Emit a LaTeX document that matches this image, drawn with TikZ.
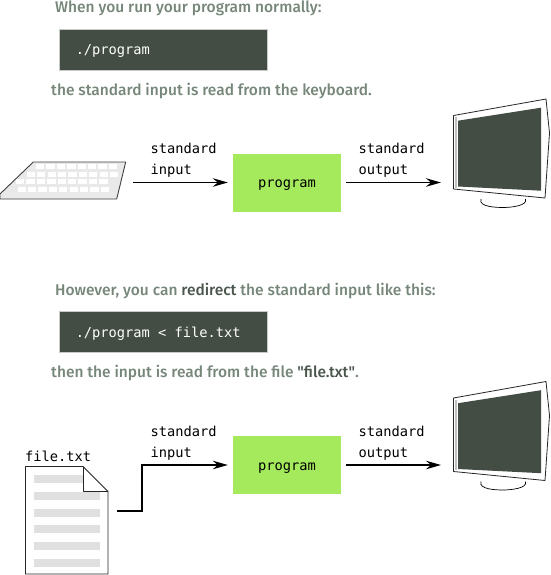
\documentclass[tikz,border=0pt]{standalone}
\usepackage{fontspec}
\setmainfont{Fira Sans}[UprightFont=* Medium]
\newfontfamily\plainquote{Fira Sans}[UprightFont=* Medium]
\setmonofont{DejaVu Sans Mono}
\usetikzlibrary{arrows.meta}
\definecolor{dark}{HTML}{434D43}
\definecolor{prose}{HTML}{76877A}
\definecolor{strongc}{HTML}{4A564C}
\definecolor{lime}{HTML}{A5EA5C}
\definecolor{fileline}{HTML}{E0E0E0}
\definecolor{kbd}{HTML}{E9E9E9}
\tikzset{
  x=1pt,y=-1pt,
  prose/.style={anchor=west,inner sep=0pt,text=prose,font=\fontsize{15.5}{18}\selectfont},
  cmdbox/.style={anchor=west,fill=dark,draw=dark!30!white,line width=0.5pt,minimum width=208pt,minimum height=41pt,inner sep=0pt,text=white,font=\ttfamily\fontsize{13.7}{16}\selectfont,text width=174pt,align=left,text height=10pt,text depth=0pt},
  prog/.style={fill=lime,minimum width=108pt,minimum height=58pt,inner sep=0pt,font=\ttfamily\fontsize{13.7}{16}\selectfont,text height=10.5pt,text depth=0pt},
  lab/.style={anchor=west,inner sep=0pt,font=\ttfamily\fontsize{13.7}{16}\selectfont,text height=10pt,text depth=3pt},
  flow/.style={line width=1.7pt,shorten >=5pt,-{Stealth[length=15pt,width=8.5pt,inset=5pt]}},
  outl/.style={draw=black!85,line width=0.8pt},
}
\newcommand{\monitor}[2]{%
  \begin{scope}[shift={(#1,#2)}]
    \draw[line width=0.7pt] (481,199) .. controls (478,207) and (497,207.5) .. (503,207.5) .. controls (510,207.5) and (528,206) .. (525.5,199);
    \draw[outl,fill=white,line join=round] (453.5,115.5) -- (546,99) -- (549.5,133) -- (545,198) -- (453.5,189) -- cycle;
    \draw[black!25,line width=1.4pt] (456,117.5) -- (456,187.5);
    \fill[dark] (458,120.7) -- (541,107.7) -- (541,190.7) -- (458,186.5) -- cycle;
  \end{scope}}
\begin{document}
\begin{tikzpicture}
\useasboundingbox (0,0) rectangle (550,575);
\node[prose] (t1) at (55,8.5) {When you run your program normally:};
\node[cmdbox] (c1) at (58.5,49.5) {./program};
\node[prose] (t2) at (51,91.5) {the standard input is read from the keyboard.};
% keyboard
\draw[black!75,line width=0.9pt,fill=kbd,line join=round] (33.3,162) -- (125.7,162) -- (116.7,199) -- (0,199) -- (0,194) -- cycle;
\foreach \r/\xa/\n in {164.3/36/8,171.7/26.7/9,179.3/16/9,186.7/17.5/9}{
  \foreach \i in {1,...,\n}{
    \fill[white] ({\xa+(\i-1)*10.4},\r) rectangle ++(8.3,4.8);
  }
}
\node[prog] (p1) at (287,182.5) {program};
\coordinate (kb) at (133,182.5);
\coordinate (m1) at (446,182.5);
\draw[flow] (kb) -- (p1.west);
\draw[flow] (p1.east) ++(5,0) coordinate (o1) -- (m1);
\node[lab] (si1) at (150.5,150) {standard};
\node[lab] (si1b) at (150.5,171) {input};
\node[lab] (so1) at (358.5,150) {standard};
\node[lab] (so1b) at (358.5,171) {output};
\monitor{0}{0}
%
\node[prose] (t3) at (55,291) {However, you can \textcolor{strongc}{redirect} the standard input like this:};
\node[cmdbox] (c2) at (58.5,332) {./program\hspace{0.602em}<\hspace{0.602em}file.txt};
\node[prose] (t4) at (51,373.5) {then the input is read from the file \textcolor{strongc}{{\plainquote"}file.txt{\plainquote"}}.};
% file
\node[lab] (fn) at (25,457.5) {file.txt};
\draw[outl,fill=white,line join=round] (25.5,466.5) -- (83,466.5) -- (108,491.5) -- (108,574) -- (25.5,574) -- cycle;
\fill[fileline] (34,475) rectangle (83,483);
\foreach \y in {492,508.5,525,542,558.5}{\fill[fileline] (34,\y) rectangle (100,{\y+8});}
\draw[black!85,line width=0.8pt,line join=round] (83,466.5) -- (83,491.5) -- (108,491.5);
\node[prog] (p2) at (287,465) {program};
\coordinate (f) at (117,511);
\coordinate (m2) at (446,465);
\draw[flow,line join=miter] (f) -- (142,511) -- (142,465) -- (p2.west);
\draw[flow] (p2.east) ++(5,0) coordinate (o2) -- (m2);
\node[lab] (si2) at (150.5,432.5) {standard};
\node[lab] (si2b) at (150.5,453.5) {input};
\node[lab] (so2) at (358.5,432.5) {standard};
\node[lab] (so2b) at (358.5,453.5) {output};
\monitor{0}{282.5}
\end{tikzpicture}
\end{document}
